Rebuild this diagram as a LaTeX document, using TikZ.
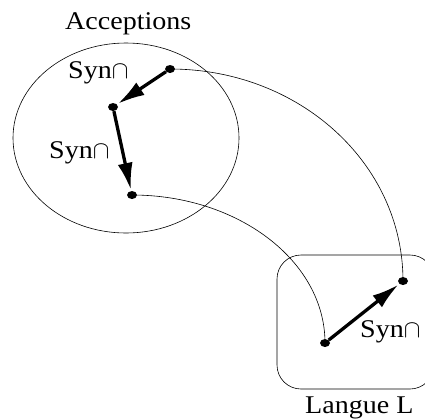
\documentclass[tikz,border=0pt]{standalone}
\usepackage{fontspec}
\setmainfont[FakeStretch=1.1]{Liberation Serif}
\usetikzlibrary{shapes.geometric,arrows.meta}
\begin{document}
\begin{tikzpicture}[x=1pt,y=-1pt,
  dotnode/.style={ellipse,fill=black,draw=none,inner sep=0pt,minimum width=10pt,minimum height=8pt},
  lbl/.style={anchor=base west,inner sep=0pt,font=\fontsize{25.5}{30}\selectfont},
  thin line/.style={line width=0.6pt},
  bigarrow/.style={line width=3.3pt,-{Latex[length=27pt,width=15pt]},shorten >=1pt}]
\useasboundingbox (0,0) rectangle (425,418);
% frames
\draw[thin line] (126,138) ellipse [x radius=113, y radius=95];
\draw[thin line,rounded corners=24pt] (277,255) rectangle (434,389);
% dots
\node[dotnode] (a1) at (170,69) {};
\node[dotnode] (a2) at (113,107) {};
\node[dotnode] (a3) at (132,195) {};
\node[dotnode] (b1) at (325,343) {};
\node[dotnode] (b2) at (403,281) {};
% links
\draw[thin line] (a1.center) .. controls (299,69) and (403,163) .. (b2.center);
\draw[thin line] (a3.center) .. controls (238,195) and (325,261) .. (b1.center);
% arrows
\draw[bigarrow] (a1) -- (a2);
\draw[bigarrow] (a2) -- (a3);
\draw[bigarrow] (b1) -- (b2);
% labels
\node[lbl] (acc) at (65,29) {Acceptions};
\node[lbl] (lang) at (305,413) {Langue L};
\node[lbl] (s1) at (68,78) {Syn$\cap$};
\node[lbl] (s2) at (49,158) {Syn$\cap$};
\node[lbl] (s3) at (360,337) {Syn$\cap$};
\end{tikzpicture}
\end{document}
